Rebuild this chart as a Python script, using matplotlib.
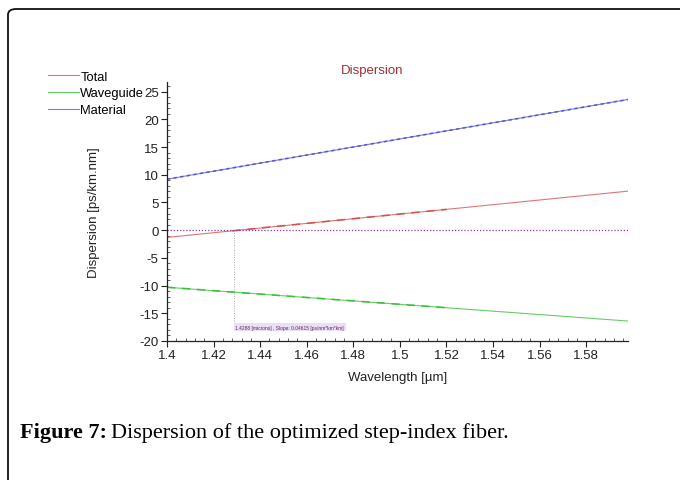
import matplotlib
matplotlib.use('Agg')
import matplotlib.pyplot as plt
from matplotlib.patches import FancyBboxPatch
from matplotlib.ticker import MultipleLocator, FixedLocator
import numpy as np

# значения
wavelength = [1.4, 1.598]
total = [-1.3, 7.05]
waveguide = [-10.3, -16.4]
material = [9.2, 23.6]
dash_total = [1.428, 1.52]
dash_waveguide = [1.4, 1.52]
dash_material = [1.4, 1.598]
zero_cross = 1.4288
xticks = [1.4, 1.42, 1.44, 1.46, 1.48, 1.5, 1.52, 1.54, 1.56, 1.58]
xticklabels = ['1.4', '1.42', '1.44', '1.46', '1.48', '1.5', '1.52', '1.54', '1.56', '1.58']
yticks = [-20, -15, -10, -5, 0, 5, 10, 15, 20, 25]

plt.rcParams['font.family'] = ['Liberation Sans', 'DejaVu Sans']
plt.rcParams['axes.unicode_minus'] = False

fig = plt.figure(figsize=(6.8, 4.81), dpi=100)
ax = fig.add_axes([0.2456, 0.289, 0.678, 0.539])

def seg(xs, ys, lo, hi):
    x = np.array([lo, hi])
    return x, np.interp(x, xs, ys)

colors = {'Total': '#d04848', 'Waveguide': '#33bb33', 'Material': '#5050cc'}
for name, ys, dash in [('Total', total, dash_total),
                       ('Waveguide', waveguide, dash_waveguide),
                       ('Material', material, dash_material)]:
    c = colors[name]
    ax.plot(wavelength, ys, color=c, lw=0.8, alpha=0.75, label=name)
    dx, dy = seg(wavelength, ys, *dash)
    ax.plot(dx, dy, color=c, lw=1.2, alpha=0.85,
            ls=(0, (5, 4)) if name != 'Material' else (0, (2, 2)))

ax.axhline(0, color='#9030a0', lw=0.9, ls=(0, (1, 1.5)))
ax.plot([zero_cross, zero_cross], [0, -17.3], color='#b0a0c0', lw=0.7, ls=(0, (1, 1.5)))
ax.text(zero_cross + 0.0005, -17.5, '1.4288 [microns] , Slope: 0.04615 [ps/nm*km*km]',
        fontsize=3.5, color='#702040', va='center', ha='left',
        bbox=dict(facecolor='#e8e0f8', edgecolor='none', pad=1.2))

ax.set_xlim(1.4, 1.598)
ax.set_ylim(-20, 26.8)
ax.xaxis.set_major_locator(FixedLocator(xticks))
ax.set_xticklabels(xticklabels)
ax.xaxis.set_minor_locator(MultipleLocator(0.004))
ax.yaxis.set_major_locator(FixedLocator(yticks))
ax.yaxis.set_minor_locator(MultipleLocator(1))
ax.tick_params(which='major', direction='out', length=4, width=0.8, labelsize=9.5, colors='#222222', pad=2)
ax.tick_params(which='minor', direction='in', length=2, width=0.6, colors='#444444')
for s in ['top', 'right']:
    ax.spines[s].set_visible(False)
for s in ['left', 'bottom']:
    ax.spines[s].set_linewidth(0.9)
    ax.spines[s].set_color('#222222')

ax.set_xlabel('Wavelength [\u00b5m]', fontsize=9.5, labelpad=7, color='#222222')
ax.set_ylabel('Dispersion [ps/km.nm]', fontsize=9.5, labelpad=28, color='#222222')
fig.text(0.547, 0.853, 'Dispersion', fontsize=9.5, color='#a03030', ha='center', va='center')

fig.legend(loc='upper left', bbox_to_anchor=(0.061, 0.864), frameon=False, fontsize=9.3,
           handlelength=2.4, handletextpad=0.1, labelspacing=0.35, borderpad=0)

t_bold = fig.text(0.03, 0.1, 'Figure 7:', fontsize=16, fontweight='bold',
                  family='Liberation Serif', va='center')
fig.canvas.draw()
bb = t_bold.get_window_extent()
fig.text((bb.x1 + 4) / fig.bbox.width, 0.1, 'Dispersion of the optimized step-index fiber.',
         fontsize=16, family='Liberation Serif', va='center')

frame = FancyBboxPatch((8 / 680, -0.2), 1.2, 1.2 - 10 / 481,
                       boxstyle='round,pad=0,rounding_size=0.012', transform=fig.transFigure,
                       fill=False, edgecolor='#111111', lw=1.3)
fig.patches.append(frame)

fig.savefig('out.png', dpi=100)
